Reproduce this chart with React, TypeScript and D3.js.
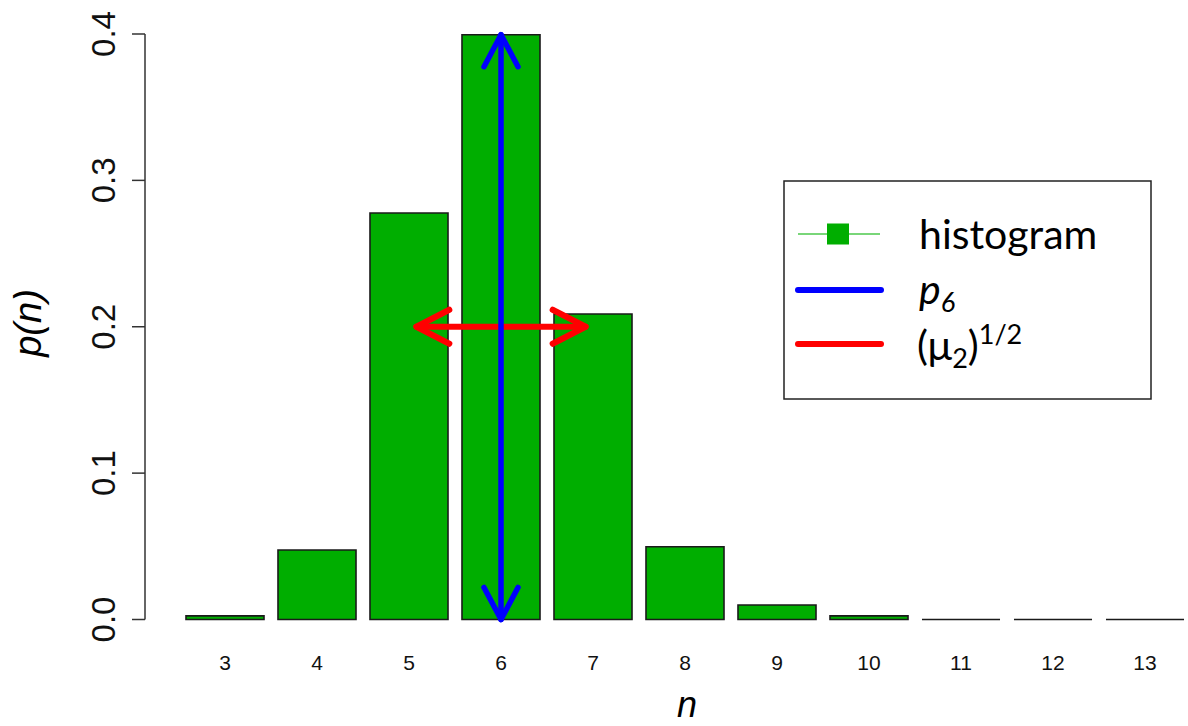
import React from "react";
import * as d3 from "d3";

const categories = ["3", "4", "5", "6", "7", "8", "9", "10", "11", "12", "13"];
const probabilities = [0.0025, 0.0475, 0.2777, 0.3995, 0.2087, 0.0497, 0.0099, 0.0025, 0, 0, 0];
const yTicks = [0, 0.1, 0.2, 0.3, 0.4];
const peakCategory = "6";
const sqrtMu2 = 0.92;
const sigmaLevel = 0.2;

const W = 1188;
const H = 726;

export default function App() {
  const x = d3
    .scaleBand<string>()
    .domain(categories)
    .range([179, 179 + 11 * 92])
    .paddingInner(0.152)
    .paddingOuter(0.076);
  const y = d3.scaleLinear().domain([0, 0.4]).range([619.5, 34]);
  const step = x.step();
  const cx = (c: string) => (x(c) as number) + x.bandwidth() / 2;

  const peakX = cx(peakCategory);
  const peakVal = probabilities[categories.indexOf(peakCategory)];
  const redL = peakX - sqrtMu2 * step;
  const redR = peakX + sqrtMu2 * step;
  const redY = y(sigmaLevel);

  const axisFont = "'Liberation Sans', Arial, sans-serif";
  const legFont = "Lato, 'Open Sans', sans-serif";

  const barPath = (c: string, v: number) => {
    const x0 = x(c) as number;
    const w = x.bandwidth();
    const y0 = y(0);
    const y1 = y(v);
    return `M${x0},${y0}L${x0 + w},${y0}L${x0 + w},${y1}L${x0},${y1}Z`;
  };

  return (
    <svg
      width={W}
      height={H}
      style={{ position: "absolute", left: 0, top: 0, background: "#fff" }}
    >
      {/* bars */}
      {categories.map((c, i) => (
        <path
          key={c}
          d={barPath(c, probabilities[i])}
          fill="#00AE00"
          stroke="#1a1a1a"
          strokeWidth={1.6}
        />
      ))}

      {/* y axis */}
      <g fontFamily={axisFont} fontSize={33} fill="#111">
        <line x1={145} x2={145} y1={y(0)} y2={y(0.4)} stroke="#333" strokeWidth={1.5} />
        {yTicks.map((t) => (
          <g key={t}>
            <line x1={132} x2={145} y1={y(t)} y2={y(t)} stroke="#333" strokeWidth={1.5} />
            <text
              transform={`translate(115,${y(t)}) rotate(-90)`}
              textAnchor="middle"
            >
              {t.toFixed(1)}
            </text>
          </g>
        ))}
      </g>

      {/* x tick labels */}
      <g fontFamily={axisFont} fontSize={21} fill="#111">
        {categories.map((c) => (
          <text key={c} x={cx(c)} y={670} textAnchor="middle">
            {c}
          </text>
        ))}
      </g>

      {/* axis titles */}
      <text
        x={687}
        y={717}
        textAnchor="middle"
        fontFamily={axisFont}
        fontStyle="italic"
        fontSize={36}
        fill="#000"
      >
        n
      </text>
      <text
        transform={`translate(41,323) rotate(-90)`}
        textAnchor="middle"
        fontFamily={axisFont}
        fontStyle="italic"
        fontSize={38}
        fill="#000"
      >
        p(n)
      </text>

      {/* red arrow */}
      <g stroke="#FF0000" strokeWidth={6} strokeLinecap="round" fill="none" strokeLinejoin="round">
        <line x1={redL} x2={redR} y1={redY} y2={redY} />
        <polyline points={`${redL + 33},${redY - 17} ${redL},${redY} ${redL + 33},${redY + 17}`} />
        <polyline points={`${redR - 33},${redY - 17} ${redR},${redY} ${redR - 33},${redY + 17}`} />
      </g>

      {/* blue arrow */}
      <g stroke="#0000FF" strokeWidth={5.5} strokeLinecap="round" fill="none" strokeLinejoin="round">
        <line x1={peakX} x2={peakX} y1={y(0)} y2={y(peakVal)} />
        <polyline points={`${peakX - 17},${y(peakVal) + 32} ${peakX},${y(peakVal)} ${peakX + 17},${y(peakVal) + 32}`} />
        <polyline points={`${peakX - 17},${y(0) - 32} ${peakX},${y(0)} ${peakX + 17},${y(0) - 32}`} />
      </g>

      {/* legend */}
      <g>
        <rect x={784} y={181} width={367} height={218} fill="#fff" stroke="#222" strokeWidth={1.5} />
        <line x1={798} x2={880} y1={234} y2={234} stroke="#4cc94c" strokeWidth={1.5} />
        <rect x={827} y={223.5} width={22} height={21} fill="#00AE00" />
        <line x1={798} x2={881} y1={290} y2={290} stroke="#0000FF" strokeWidth={6} strokeLinecap="round" />
        <line x1={798} x2={881} y1={344} y2={344} stroke="#FF0000" strokeWidth={6} strokeLinecap="round" />
        <g fontFamily={legFont} fontSize={41} fill="#000">
          <text x={919} y={249}>histogram</text>
          <text x={919} y={304} fontStyle="italic">
            p<tspan fontSize={27} dy={8}>6</tspan>
          </text>
          <text x={917} y={360}>
            (μ<tspan fontSize={27} dy={8}>2</tspan>
            <tspan dy={-8}>)</tspan>
            <tspan fontSize={27} dy={-16}>1/2</tspan>
          </text>
        </g>
      </g>
    </svg>
  );
}
